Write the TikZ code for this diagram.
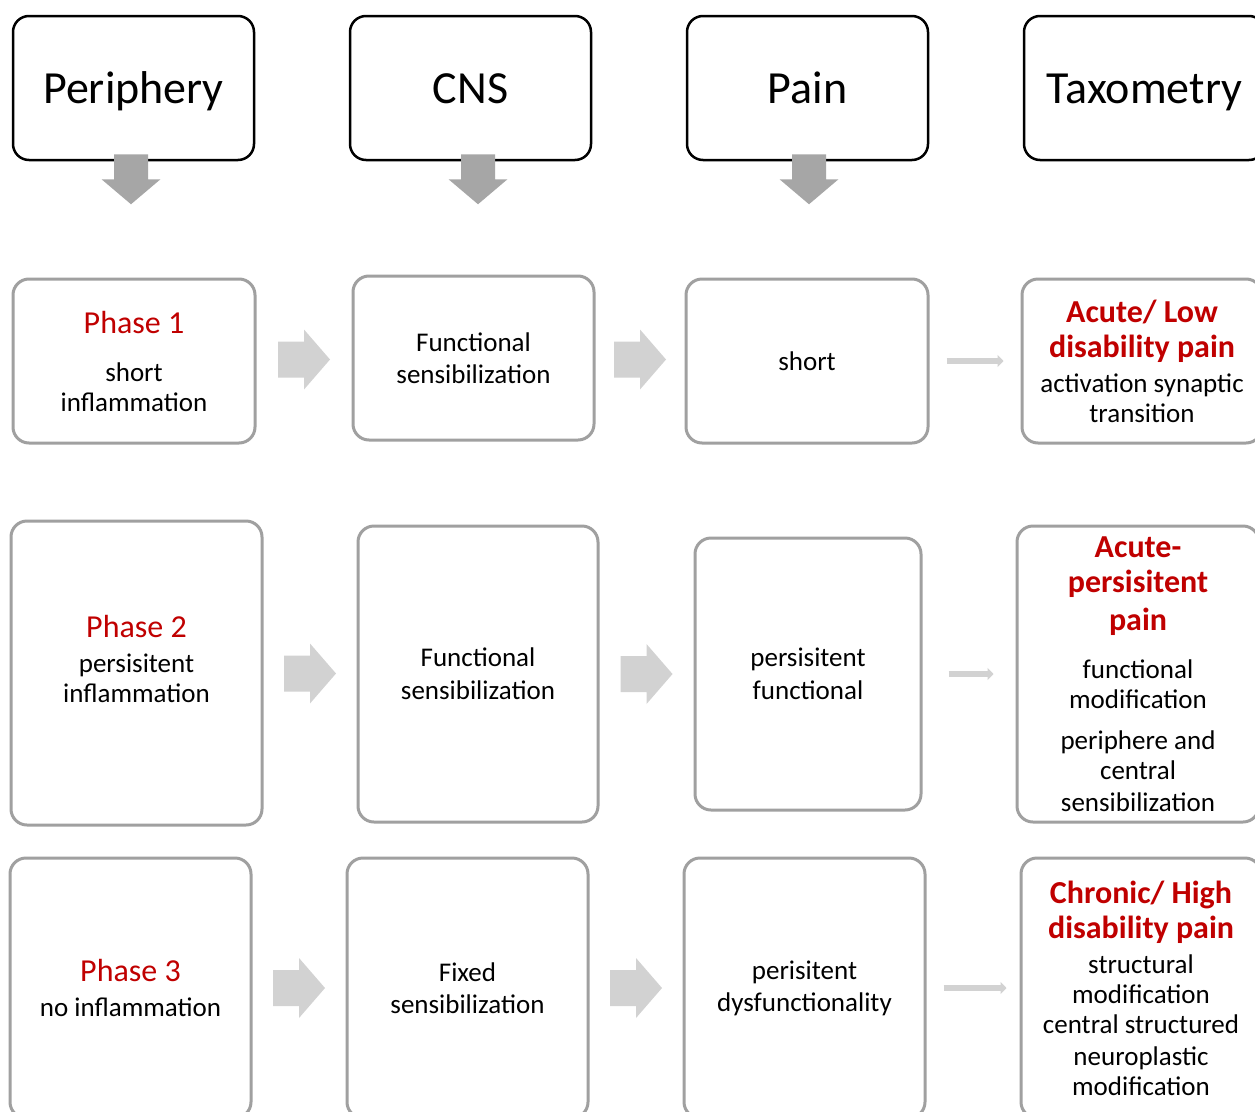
\documentclass[tikz,border=0pt]{standalone}
\usepackage{fontspec}
\setmainfont{Carlito}
\usetikzlibrary{arrows.meta}
\definecolor{painred}{RGB}{192, 0, 0}
\definecolor{boxgray}{RGB}{160, 160, 160}
\definecolor{dgray}{RGB}{166, 166, 166}
\definecolor{lgray}{RGB}{210, 210, 210}
\def\bodysize{\fontsize{27}{30}\selectfont}
\newcommand{\redline}[1]{{\color{painred}\fontsize{32}{35}\selectfont #1}}
\newcommand{\redbold}[1]{{\color{painred}\bfseries\fontsize{32}{35}\selectfont #1}}
\tikzset{
	head/.style={draw=black,line width=2.5pt,rounded corners=16pt,minimum width=241pt,minimum height=144pt,
		inner sep=0pt,text height=30pt,text depth=0pt,font=\fontsize{46}{50}\selectfont},
	stage/.style={draw=boxgray,line width=3pt,rounded corners=16pt,inner sep=0pt},
	stagetext/.style={align=center,inner sep=0pt,font=\bodysize},
	thinarr/.style={draw=lgray,line width=6pt,-{Triangle[length=6pt,width=12pt]}},
	downarr/.pic={\fill[dgray] (-17,-25) -- (17,-25) -- (17,0) -- (29.5,0) -- (0,25) -- (-29.5,0) -- (-17,0) -- cycle;},
	rightarr/.pic={\fill[lgray] (-26,-18) -- (0,-18) -- (0,-30) -- (26,0) -- (0,30) -- (0,18) -- (-26,18) -- cycle;}
}
\newcommand{\headbox}[4]{\node[head] (#3) at (#1,#2) {#4};}
\newcommand{\stagebox}[7][0pt]{\node[stage,minimum width=#5pt,minimum height=#6pt] (#4) at (#2,#3) {};
	\node[stagetext,yshift=#1] (#4-text) at (#4) {#7};}

\begin{document}
\begin{tikzpicture}[x=1pt,y=-1pt]
\clip (0,0) rectangle (1255,1111);
\fill[white] (0,0) rectangle (1255,1111);

% column heads
\headbox{133.5}{88}{hp}{Periphery}
\headbox{470.5}{88}{hc}{CNS}
\headbox{807.5}{88}{hn}{Pain}
\headbox{1144.5}{88}{ht}{Taxometry}

% phase 1
\stagebox{134}{361}{p1}{242}{164}{\redline{Phase 1}\\[18pt] short\\ inflammation}
\stagebox{473.5}{358}{c1}{241}{164}{Functional\\[2pt] sensibilization}
\stagebox{807}{361}{s1}{242}{164}{short}
\stagebox{1142}{361}{t1}{240}{164}{\redbold{Acute/ Low}\\[5pt] \redbold{disability pain}\\[5pt] activation synaptic\\ transition}

% phase 2
\stagebox[14.5pt]{136.5}{673}{p2}{251}{304}{\redline{Phase 2}\\[5pt] persisitent\\ inflammation}
\stagebox{478}{674}{c2}{240}{296}{Functional\\[3pt] sensibilization}
\stagebox{808}{674}{s2}{226}{272}{persisitent\\[3pt] functional}
\stagebox{1138}{674}{t2}{242}{296}{\redbold{Acute-}\\[5pt] \redbold{persisitent}\\[8pt] \redbold{pain}\\[18pt] functional\\ modification\\[11pt] periphere and\\ central\\[2pt] sensibilization}

% phase 3
\stagebox{130.5}{988}{p3}{241}{260}{\redline{Phase 3}\\[5pt] no inflammation}
\stagebox{467.5}{988}{c3}{241}{260}{Fixed\\[2pt] sensibilization}
\stagebox{804.5}{988}{s3}{241}{260}{perisitent\\[2pt] dysfunctionality}
\stagebox{1141}{988}{t3}{240}{260}{\redbold{Chronic/ High}\\[5pt] \redbold{disability pain}\\[5pt] structural\\ modification\\ central structured\\[2pt] neuroplastic\\ modification}

% arrows
\pic at ([xshift=-2.5pt,yshift=-18pt]hp.south) {downarr};
\pic at ([xshift=7.5pt,yshift=-18pt]hc.south) {downarr};
\pic at ([xshift=1.5pt,yshift=-18pt]hn.south) {downarr};

\path (p1.east) -- (c1.west) pic[pos=.5] {rightarr};
\path (c1.east) -- (s1.west) pic[pos=.5] {rightarr};
\path (p2.east) -- (c2.west) pic[pos=.5] {rightarr};
\path (c2.east) -- (s2.west) pic[pos=.5] {rightarr};
\path (p3.east) -- (c3.west) pic[pos=.5] {rightarr};
\path (c3.east) -- (s3.west) pic[pos=.5] {rightarr};

\draw[thinarr,shorten <=17pt,shorten >=17pt] (s1) -- (t1);
\draw[thinarr,shorten <=26pt,shorten >=22pt] (s2) -- (t2);
\draw[thinarr,shorten <=17pt,shorten >=13pt] (s3) -- (t3);
\end{tikzpicture}
\end{document}
